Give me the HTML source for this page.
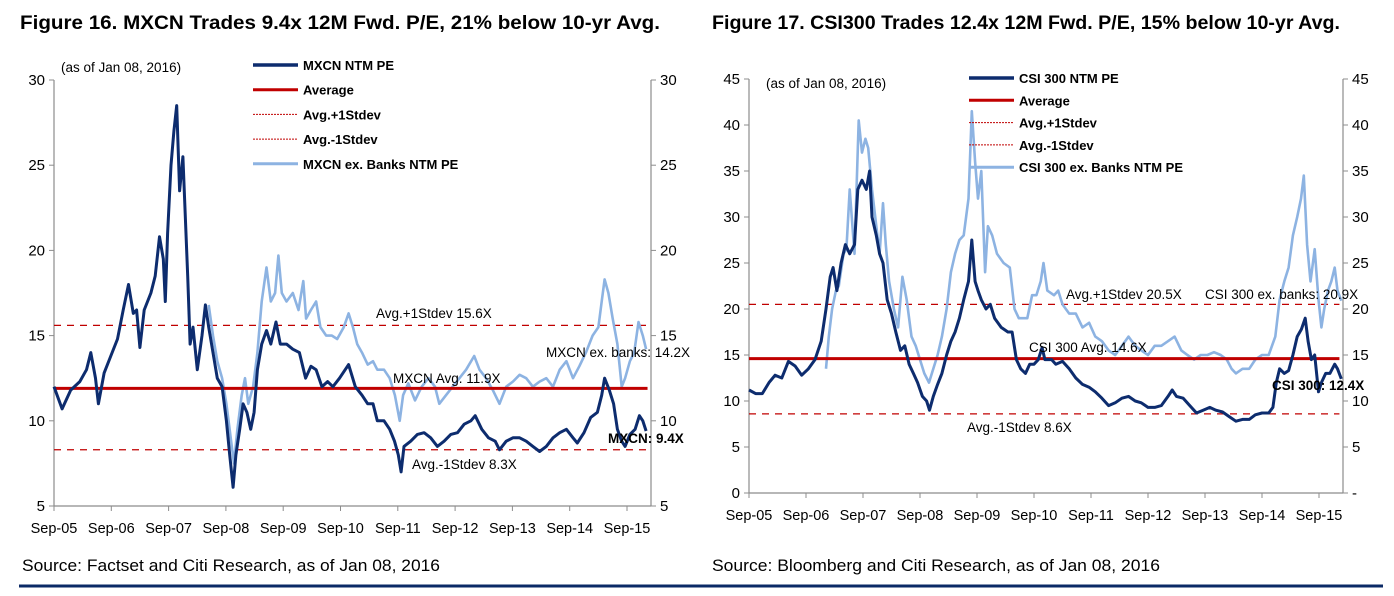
<!DOCTYPE html>
<html><head><meta charset="utf-8"><style>
html,body{margin:0;padding:0;background:#fff;width:1394px;height:596px;overflow:hidden}
svg{display:block;font-family:"Liberation Sans",Arial,sans-serif}
</style></head><body>
<svg id="root" width="1394" height="596" viewBox="0 0 1394 596">
<text x="20" y="29" font-size="19" font-weight="bold" textLength="640" lengthAdjust="spacingAndGlyphs">Figure 16. MXCN Trades 9.4x 12M Fwd. P/E, 21% below 10-yr Avg.</text>
<text x="712" y="29" font-size="19" font-weight="bold" textLength="628" lengthAdjust="spacingAndGlyphs">Figure 17. CSI300 Trades 12.4x 12M Fwd. P/E, 15% below 10-yr Avg.</text>
<text x="22" y="571" font-size="17" textLength="418" lengthAdjust="spacingAndGlyphs">Source: Factset and Citi Research, as of Jan 08, 2016</text>
<text x="712" y="571" font-size="17" textLength="448" lengthAdjust="spacingAndGlyphs">Source: Bloomberg and Citi Research, as of Jan 08, 2016</text>
<line x1="19" y1="586" x2="1383" y2="586" stroke="#0b2a66" stroke-width="3"/>
<g id="c1"></g>
<g id="c2"></g>
</svg>
<script>
// ---- Figure 16 data (months since Sep-05) ----
const mxcnMonths=[0,1.7,3.5,5.4,6.8,7.7,8.7,9.3,10.5,11.9,13.3,14.5,15.6,16.6,17.3,18.0,18.9,20.3,21.2,22.1,22.9,23.3,23.8,24.5,25.1,25.7,26.3,27.0,27.5,28.0,28.5,29.1,30.0,31.0,31.7,32.4,33.3,34.2,35.2,36.1,36.8,37.5,38.1,38.9,39.6,40.4,41.2,41.9,42.6,43.5,44.5,45.4,46.5,47.4,48.7,50.0,51.4,52.7,53.8,54.9,56.1,57.3,58.4,59.8,61.7,63.1,64.5,65.7,66.8,67.7,69.1,70.3,71.3,72.1,72.7,73.3,74.7,76.1,77.5,78.9,80.3,81.7,83.1,84.5,85.9,87.3,88.2,89.6,91.0,92.4,93.3,94.7,96.1,97.5,98.9,100.3,101.7,103.1,104.5,105.9,107.3,108.7,109.6,111.0,112.4,113.8,114.7,115.3,116.3,117.2,118.0,118.9,119.6,120.6,121.7,122.6,123.3,124.0];
const mxcnPE=[12.0,10.7,11.8,12.3,13.0,14.0,12.5,11.0,12.8,13.8,14.8,16.5,18.0,16.3,16.5,14.3,16.5,17.5,18.5,20.8,19.5,17.0,21.0,25.0,27.0,28.5,23.5,25.5,22.0,18.5,14.5,15.5,13.0,15.0,16.8,15.5,14.0,12.5,12.0,10.0,8.0,6.1,8.0,9.5,11.0,10.5,9.5,10.5,13.0,14.5,15.3,14.5,15.8,14.5,14.5,14.2,14.0,12.5,13.2,13.0,12.0,12.3,12.0,12.5,13.3,12.0,11.5,11.0,11.0,10.0,10.0,9.5,8.8,8.0,7.0,8.5,8.8,9.2,9.3,9.0,8.5,8.8,9.2,9.3,9.8,10.0,10.3,9.5,9.0,8.8,8.3,8.8,9.0,9.0,8.8,8.5,8.2,8.5,9.0,9.3,9.5,9.0,8.7,9.3,10.2,10.5,11.5,12.5,11.8,11.0,9.5,8.8,8.5,9.2,9.5,10.3,10.0,9.4];
const mxcnExMonths=[32.4,33.3,34.2,35.2,36.1,37.0,37.7,38.4,39.3,40.0,40.7,41.7,42.6,43.5,44.5,45.4,46.3,47.0,47.7,48.7,50.0,51.2,52.2,52.8,53.8,54.9,55.8,57.0,58.2,59.3,60.7,61.7,62.6,63.5,64.5,65.7,66.8,67.7,69.1,70.3,71.4,72.4,73.1,74.2,75.6,77.0,78.4,79.8,80.7,82.1,83.5,84.9,86.3,88.0,89.1,90.5,91.9,93.3,94.7,96.1,97.5,98.9,100.3,101.7,103.1,104.5,105.9,107.3,108.7,110.0,111.4,112.8,114.0,114.7,115.3,116.1,117.0,118.0,118.9,119.6,120.6,121.5,122.4,123.3,124.0];
const mxcnExPE=[16.8,15.0,13.5,12.5,11.0,9.0,7.5,9.5,11.5,12.5,11.0,12.0,14.0,17.0,19.0,17.0,17.5,19.7,17.5,17.0,17.5,16.5,18.2,16.0,16.5,17.0,15.5,15.0,15.0,14.8,15.5,16.3,15.5,14.5,14.0,13.3,13.5,13.0,13.0,12.5,11.5,10.0,11.5,12.2,11.2,12.0,12.5,12.0,11.0,11.5,12.0,12.5,13.0,13.8,13.0,12.5,11.8,11.0,12.0,12.3,12.7,12.5,12.0,12.3,12.5,12.0,13.0,13.5,12.5,13.2,14.0,15.0,15.5,17.0,18.3,17.5,16.0,14.5,12.0,12.5,13.5,14.0,15.8,15.0,14.2];
const mxcnStats=[11.9,15.6,8.3];
const mxcnTicks=[5,10,15,20,25,30];
// ---- Figure 17 data ----
const csiMonths=[0,1.4,2.8,4.2,5.5,6.9,8.3,9.7,11.1,12.5,13.9,15.2,16.2,17.1,17.7,18.5,19.4,20.3,21.2,22.2,22.9,23.8,24.7,25.4,25.9,26.8,27.5,28.2,29.1,30.0,30.9,31.9,32.8,33.7,34.6,35.5,36.5,37.4,38.0,38.8,39.7,40.6,41.6,42.5,43.4,44.3,45.2,46.2,46.9,47.6,48.2,48.9,49.9,50.8,51.7,53.1,54.5,55.4,56.3,57.2,58.2,59.1,60.0,60.9,61.7,62.3,63.7,64.6,66.0,67.4,68.8,70.2,71.6,72.9,74.3,75.7,77.1,78.5,79.9,81.3,82.6,84.0,85.4,86.8,88.2,89.1,90.0,91.4,92.8,94.2,95.6,97.0,98.3,99.7,101.1,102.5,103.9,105.3,106.6,108.0,109.4,110.3,111.0,111.7,112.7,113.6,114.5,115.4,116.3,117.1,117.7,118.4,119.1,119.9,120.5,121.4,122.3,123.3,123.9,124.7];
const csiPE=[11.2,10.8,10.8,12.0,12.8,12.5,14.3,13.8,12.8,13.5,14.5,16.5,20,23.5,24.5,22,25,27,26,27,33,34,33,35,30,28,26,25,21,19.5,17.5,15.5,16,14,13,12,10.5,10,9,10.5,11.8,13,15,16.5,17.5,19,21,23,27.5,23,22,21,20,20.5,19,18,17.5,17.5,14.5,13.5,13.0,14,14,14.5,15.8,14.5,14.5,14,14.3,13.5,12.5,11.8,11.5,11,10.3,9.5,9.8,10.3,10.5,10,9.8,9.3,9.3,9.5,10.5,11.2,10.5,10.3,9.5,8.7,9.0,9.3,9.0,8.8,8.3,7.8,8.0,8.0,8.5,8.7,8.7,9.3,12,13.5,13,13.3,15,17,17.8,19,16.5,14.5,15,11,12,13,13,14,13.5,12.4];
const csiExMonths=[16.2,16.8,17.5,18.3,18.9,19.9,20.5,21.2,22.2,23.1,23.8,24.5,25.1,25.9,26.8,27.5,28.2,28.8,29.5,30.5,31.4,32.3,33.2,34.2,35.1,36.0,36.9,37.9,38.8,39.7,40.6,41.6,42.5,43.4,44.3,45.2,46.2,46.9,47.6,48.2,48.9,49.7,50.3,51.2,52.2,53.6,54.9,55.9,56.8,57.7,58.6,59.6,60.5,61.4,62.0,62.8,64.2,65.1,66.0,67.4,68.8,70.2,71.6,72.9,74.3,75.7,77.1,78.5,79.9,81.3,82.6,84.0,85.4,86.8,88.2,89.6,91.0,92.3,93.7,95.1,96.5,97.9,99.3,100.6,101.6,102.5,103.9,105.3,106.6,108.0,109.4,110.8,111.7,112.7,113.6,114.5,115.4,116.2,116.8,117.5,118.2,119.1,119.9,120.5,121.1,121.9,122.6,123.3,123.9,124.7];
const csiExPE=[13.5,17,20,22,22.5,26,26.5,33,26,40.5,37,38.5,37.5,33,29,26,31.5,27,23,20,18,23.5,21,17,16,14.5,13,12,13.5,15,17,20,24,26,27.5,28,32,41.5,36,32,35,24,29,28,26,25,24.5,20,19,19,19,21.5,21.5,23,25,22,21.5,22,20.5,19.5,19.5,18,18.5,17,16.5,15.5,15,16,17,16,15.5,15,16,16,16.5,17,15.5,15,14.5,15,15,15.3,15,14.5,13.5,13,13.5,13.5,14.5,15,15,17,21,23,24.5,28,30,32,34.5,27,23,26.5,21,18,20,22,23,24.5,22,20.9];
const csiStats=[14.6,20.5,8.6];
const csiTicks=[0,5,10,15,20,25,30,35,40,45];
const xLabels=["Sep-05","Sep-06","Sep-07","Sep-08","Sep-09","Sep-10","Sep-11","Sep-12","Sep-13","Sep-14","Sep-15"];

const NS="http://www.w3.org/2000/svg";
const DARK="#0d2c6e",LIGHT="#8db3e2",RED="#c00000",AX="#8c8c8c";
function mk(parent,tag,attrs,text){const e=document.createElementNS(NS,tag);for(const k in attrs)e.setAttribute(k,attrs[k]);if(text!==undefined)e.textContent=text;parent.appendChild(e);return e;}

function chart(g,cfg){
  const xs=m=>cfg.x0+m*cfg.yearW/12;
  const ys=v=>cfg.yBot-(v-cfg.vMin)*(cfg.yBot-cfg.yTop)/(cfg.vMax-cfg.vMin);
  // axes
  let e=mk(g,'line',{x1:cfg.axL,y1:cfg.yTop,x2:cfg.axL,y2:cfg.yBot,stroke:AX,'stroke-width':1.2});
  
  e=mk(g,'line',{x1:cfg.axR,y1:cfg.yTop,x2:cfg.axR,y2:cfg.yBot,stroke:AX,'stroke-width':1.2});
  
  e=mk(g,'line',{x1:cfg.axL,y1:cfg.yBot,x2:cfg.axR,y2:cfg.yBot,stroke:AX,'stroke-width':1.2});
  
  cfg.ticks.forEach(t=>{
    const y=ys(t);
    mk(g,'line',{x1:cfg.axL-5,y1:y,x2:cfg.axL,y2:y,stroke:AX});
    mk(g,'line',{x1:cfg.axR,y1:y,x2:cfg.axR+5,y2:y,stroke:AX});
    e=mk(g,'text',{x:cfg.axL-9,y:y+5,'font-size':15,'text-anchor':'end'},String(t));
    
    e=mk(g,'text',{x:cfg.axR+9,y:y+5,'font-size':15},(cfg.zeroDash&&t===0)?'-':String(t));
    
  });
  xLabels.forEach((l,i)=>{
    const x=xs(i*12);
    mk(g,'line',{x1:x,y1:cfg.yBot,x2:x,y2:cfg.yBot+5,stroke:AX});
    e=mk(g,'text',{x:x,y:cfg.yBot+27,'font-size':14.5,'text-anchor':'middle'},l);
    
  });
  // stat lines
  const x1=cfg.axL,x2=xs(124.3);
  e=mk(g,'line',{x1:x1,y1:ys(cfg.stats[1]),x2:x2,y2:ys(cfg.stats[1]),stroke:RED,'stroke-width':1.2,'stroke-dasharray':'7,6'});
  
  e=mk(g,'line',{x1:x1,y1:ys(cfg.stats[2]),x2:x2,y2:ys(cfg.stats[2]),stroke:RED,'stroke-width':1.2,'stroke-dasharray':'7,6'});
  
  // series
  const pts=(ms,vs)=>ms.map((m,i)=>xs(m).toFixed(1)+','+ys(vs[i]).toFixed(1)).join(' ');
  e=mk(g,'polyline',{points:pts(cfg.exM,cfg.exV),fill:'none',stroke:LIGHT,'stroke-width':2.6,'stroke-linejoin':'round'});
  
  e=mk(g,'line',{x1:x1,y1:ys(cfg.stats[0]),x2:x2,y2:ys(cfg.stats[0]),stroke:RED,'stroke-width':3});
  
  e=mk(g,'polyline',{points:pts(cfg.m,cfg.v),fill:'none',stroke:DARK,'stroke-width':3,'stroke-linejoin':'round'});
  
  // legend
  cfg.legend.forEach((it,i)=>{
    const y=cfg.legY+i*cfg.legStep;
    const ln=mk(g,'line',{x1:cfg.legX,y1:y,x2:cfg.legX+45,y2:y,stroke:it[1],'stroke-width':it[2]});
    if(it[3])ln.setAttribute('stroke-dasharray',it[3]);
    
    e=mk(g,'text',{x:cfg.legX+50,y:y+5,'font-size':13,'font-weight':'bold'},it[0]);
    
  });
  cfg.notes.forEach(n=>{
    e=mk(g,'text',{x:n[1],y:n[2],'font-size':13.5,'font-weight':n[3]?'bold':'normal'},n[0]);
    
  });
}

chart(document.getElementById('c1'),{
  x0:54,yearW:57.3,axL:54,axR:651,yTop:80,yBot:506,vMin:5,vMax:30,ticks:mxcnTicks,stats:mxcnStats,
  m:mxcnMonths,v:mxcnPE,exM:mxcnExMonths,exV:mxcnExPE,legX:253,legY:65,legStep:24.7,
  legend:[["MXCN NTM PE",DARK,3.5],["Average",RED,3],["Avg.+1Stdev",RED,1,"2,1"],["Avg.-1Stdev",RED,1,"2,1"],["MXCN ex. Banks NTM PE",LIGHT,3]],
  notes:[["(as of Jan 08, 2016)",61,72],["Avg.+1Stdev 15.6X",376,318],["MXCN ex. banks: 14.2X",546,357],["MXCN Avg. 11.9X",393,383],["MXCN: 9.4X",608,443,1],["Avg.-1Stdev 8.3X",412,469]]
});
chart(document.getElementById('c2'),{
  x0:749,yearW:57,axL:749,axR:1343,yTop:79,yBot:493,vMin:0,vMax:45,ticks:csiTicks,stats:csiStats,zeroDash:true,
  m:csiMonths,v:csiPE,exM:csiExMonths,exV:csiExPE,legX:969,legY:78,legStep:22.3,
  legend:[["CSI 300 NTM PE",DARK,3.5],["Average",RED,3],["Avg.+1Stdev",RED,1,"2,1"],["Avg.-1Stdev",RED,1,"2,1"],["CSI 300 ex. Banks NTM PE",LIGHT,3]],
  notes:[["(as of Jan 08, 2016)",766,88],["Avg.+1Stdev 20.5X",1066,299],["CSI 300 ex. banks: 20.9X",1205,299],["CSI 300 Avg. 14.6X",1029,352],["CSI 300: 12.4X",1272,390,1],["Avg.-1Stdev 8.6X",967,432]]
});
</script>
</body></html>
